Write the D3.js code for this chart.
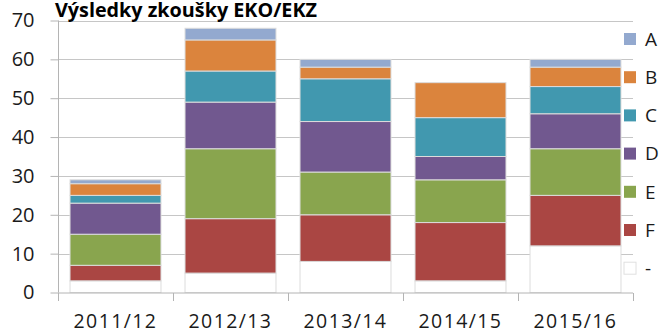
<!DOCTYPE html>
<html>
<head>
<meta charset="utf-8">
<script src="https://d3js.org/d3.v7.min.js"></script>
<style>
  html, body { margin: 0; padding: 0; background: #fff; }
  svg { display: block; font-family: "Open Sans", sans-serif; }
</style>
</head>
<body>
<svg id="chart" width="662" height="333"></svg>
<script>
// Exam results per school year, stacked by grade
const categories = ["2011/12", "2012/13", "2013/14", "2014/15", "2015/16"];
const grades = ["-", "F", "E", "D", "C", "B", "A"];   // bottom to top of each stack
const dashCounts = [3, 5, 8, 3, 12];
const fCounts = [4, 14, 12, 15, 13];
const eCounts = [8, 18, 11, 11, 12];
const dCounts = [8, 12, 13, 6, 9];
const cCounts = [2, 8, 11, 10, 7];
const bCounts = [3, 8, 3, 9, 5];
const aCounts = [1, 3, 2, 0, 2];
const yTicks = [0, 10, 20, 30, 40, 50, 60, 70];
const title = "Výsledky zkoušky EKO/EKZ";

const gradeColors = {
  "-": "#ffffff", "F": "#aa4643", "E": "#89a54e", "D": "#71588f",
  "C": "#4198af", "B": "#db843d", "A": "#93a9cf"
};

const seriesByGrade = { "-": dashCounts, "F": fCounts, "E": eCounts, "D": dCounts,
                        "C": cCounts, "B": bCounts, "A": aCounts };
const rows = categories.map((c, i) => {
  const r = { year: c };
  grades.forEach(g => r[g] = seriesByGrade[g][i]);
  return r;
});

const svg = d3.select("#chart");
const plot = { left: 58, right: 633, top: 20.5, bottom: 292.5 };

const x = d3.scaleBand().domain(categories)
  .range([plot.left, plot.right]).paddingInner(0.209).paddingOuter(0.1045);
const y = d3.scaleLinear().domain([0, 70]).range([plot.bottom, plot.top]);

// gridlines
svg.append("g").selectAll("line").data(yTicks.filter(t => t > 0)).join("line")
  .attr("x1", plot.left).attr("x2", plot.right)
  .attr("y1", d => Math.round(y(d)) + 0.5).attr("y2", d => Math.round(y(d)) + 0.5)
  .attr("stroke", "#c6c6c6").attr("stroke-width", 1);

// stacked bars
const stack = d3.stack().keys(grades)(rows);
svg.append("g").selectAll("g").data(stack).join("g")
  .attr("fill", d => gradeColors[d.key])
  .selectAll("rect").data(d => d).join("rect")
    .attr("x", d => x(d.data.year))
    .attr("width", x.bandwidth())
    .attr("y", d => y(d[1]))
    .attr("height", d => y(d[0]) - y(d[1]))
    .attr("stroke", "#dcdcdc").attr("stroke-width", 1);

// y axis
const yAxis = d3.axisLeft(y).tickValues(yTicks).tickSize(8).tickPadding(16);
const gy = svg.append("g").attr("transform", `translate(${plot.left + 0.5},0)`).call(yAxis);
gy.select(".domain").attr("stroke", "#b4b4b4").attr("d", `M0,${plot.top}V${plot.bottom}`);
gy.selectAll(".tick line").attr("stroke", "#b4b4b4");
gy.selectAll(".tick text").attr("font-size", 20).attr("fill", "#1a1a1a")
  .attr("font-family", "Open Sans, sans-serif");

// x axis with ticks on category boundaries
const gx = svg.append("g").attr("transform", `translate(0,${plot.bottom + 0.5})`);
gx.append("line").attr("x1", plot.left).attr("x2", plot.right)
  .attr("stroke", "#b4b4b4");
const bounds = d3.range(categories.length + 1).map(i => plot.left + i * x.step());
gx.selectAll("line.tk").data(bounds).join("line").attr("class", "tk")
  .attr("x1", d => Math.round(d) + 0.5).attr("x2", d => Math.round(d) + 0.5)
  .attr("y1", 0).attr("y2", 8).attr("stroke", "#b4b4b4");
gx.selectAll("text").data(categories).join("text")
  .attr("x", d => x(d) + x.bandwidth() / 2).attr("y", 34.5)
  .attr("text-anchor", "middle").attr("font-size", 19.5).attr("letter-spacing", 1.4)
  .attr("fill", "#1a1a1a").text(d => d);

// title
svg.append("text").attr("x", 55).attr("y", 17)
  .attr("font-size", 20).attr("font-weight", "bold").attr("fill", "#000")
  .attr("textLength", 262).attr("lengthAdjust", "spacingAndGlyphs")
  .text(title);

// legend, top grade first
const legendGrades = grades.slice().reverse();
const lg = svg.append("g").selectAll("g").data(legendGrades).join("g")
  .attr("transform", (d, i) => `translate(624,${39 + i * 38.2})`);
lg.append("rect").attr("x", 0).attr("y", -6).attr("width", 12).attr("height", 12)
  .attr("fill", d => gradeColors[d])
  .attr("stroke", d => d === "-" ? "#e0e0e0" : "none");
lg.append("text").attr("x", 21).attr("y", 0).attr("dy", "0.36em")
  .attr("font-size", 19).attr("fill", "#1a1a1a").text(d => d);
</script>
</body>
</html>
